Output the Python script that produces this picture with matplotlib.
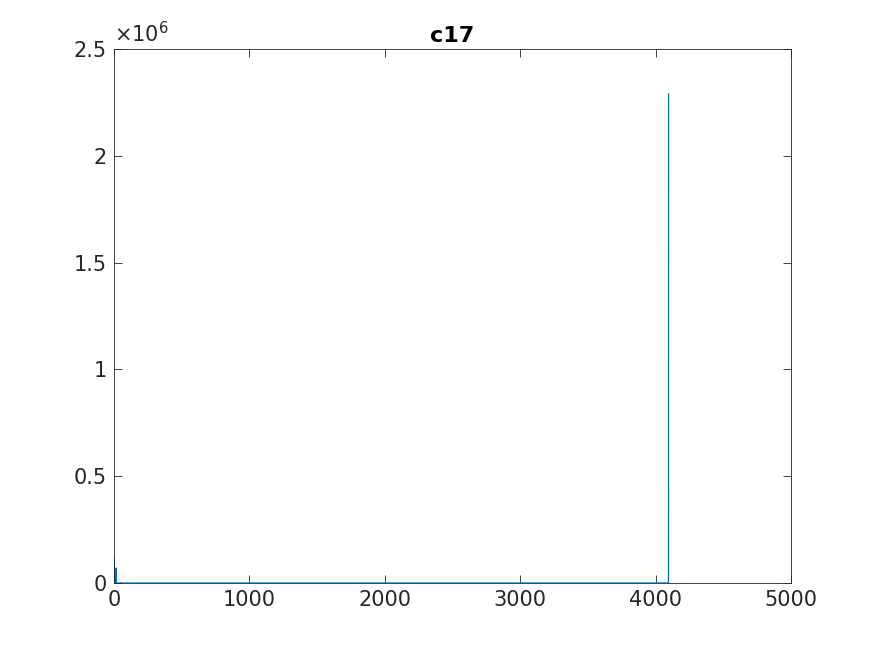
import matplotlib.pyplot as plt
from matplotlib.ticker import FuncFormatter

# sample index vs. magnitude (mostly ~0, big spike at the last sample)
x_vals = [0, 1, 2, 14, 15, 16, 4095, 4096]
y_vals = [0, 120000, 5000, 0, 70000, 0, 0, 2290000]

x_ticks = [0, 1000, 2000, 3000, 4000, 5000]
y_ticks = [0, 0.5e6, 1e6, 1.5e6, 2e6, 2.5e6]

title = "c17"

fig = plt.figure(figsize=(8.75, 6.56), dpi=100)
ax = fig.add_axes([0.1303, 0.1113, 0.7737, 0.814])

ax.plot(x_vals, y_vals, color="#0072BD", lw=0.9)

ax.set_xlim(0, 5000)
ax.set_ylim(0, 2.5e6)
ax.set_xticks(x_ticks)
ax.set_yticks(y_ticks)
ax.yaxis.set_major_formatter(FuncFormatter(lambda v, p: f"{v / 1e6:g}"))

ax.tick_params(direction="in", length=6, width=0.6, colors="#262626",
               labelsize=15, top=True, right=True, pad=5)
for s in ax.spines.values():
    s.set_linewidth(0.6)
    s.set_color("#262626")

ax.text(0.0, 1.006, r"$\times10^{6}$", transform=ax.transAxes,
        fontsize=15, color="#262626", ha="left", va="bottom")
ax.set_title(title, fontsize=16, fontweight="bold", color="black", pad=5)

fig.savefig("out.png", dpi=100)
